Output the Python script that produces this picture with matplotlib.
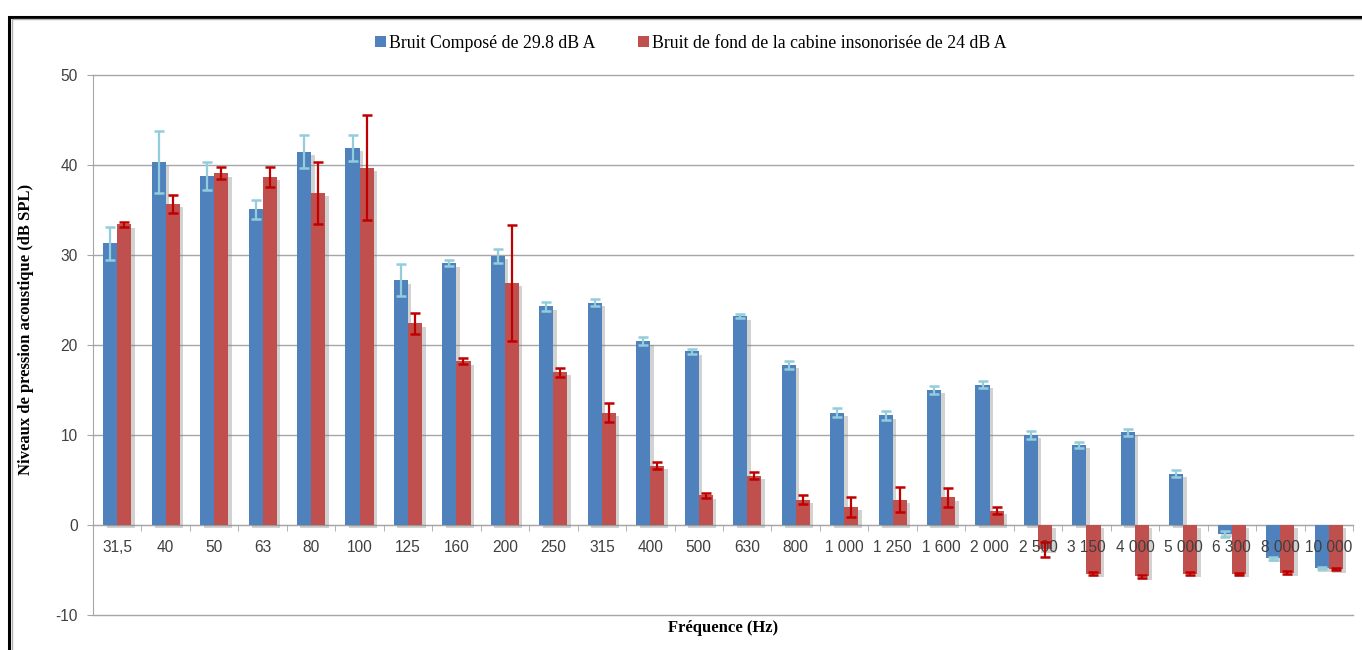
import matplotlib
matplotlib.use("Agg")
import matplotlib.pyplot as plt
import matplotlib.patheffects as pe
from matplotlib.patches import Patch, Rectangle
import numpy as np

plt.rcParams['axes.unicode_minus'] = False

# data
freqs = ['31,5', '40', '50', '63', '80', '100', '125', '160', '200', '250', '315',
         '400', '500', '630', '800', '1 000', '1 250', '1 600', '2 000', '2 500',
         '3 150', '4 000', '5 000', '6 300', '8 000', '10 000']
bruit_compose = [31.3, 40.3, 38.8, 35.1, 41.5, 41.9, 27.2, 29.1, 29.9, 24.3, 24.7,
                 20.4, 19.3, 23.2, 17.8, 12.5, 12.2, 15.0, 15.6, 10.0, 8.9, 10.3,
                 5.7, -1.0, -3.7, -4.8]
bruit_compose_err = [1.85, 3.45, 1.55, 1.05, 1.85, 1.4, 1.75, 0.35, 0.8, 0.5, 0.37,
                     0.45, 0.25, 0.2, 0.43, 0.5, 0.5, 0.4, 0.37, 0.4, 0.33, 0.37,
                     0.4, 0.35, 0.15, 0.1]
bruit_fond = [33.4, 35.7, 39.1, 38.7, 36.9, 39.7, 22.4, 18.2, 26.9, 17.0, 12.5,
              6.6, 3.3, 5.5, 2.8, 2.0, 2.8, 3.1, 1.6, -2.7, -5.4, -5.7, -5.4,
              -5.4, -5.3, -4.9]
bruit_fond_err = [0.3, 1.0, 0.7, 1.1, 3.4, 5.85, 1.2, 0.35, 6.45, 0.5, 1.05,
                  0.4, 0.3, 0.4, 0.5, 1.1, 1.4, 1.05, 0.37, 0.8, 0.2, 0.15, 0.15,
                  0.1, 0.15, 0.15]
series_labels = ['Bruit Composé de 29.8 dB A',
                 'Bruit de fond de la cabine insonorisée de 24 dB A']
yticks = [-10, 0, 10, 20, 30, 40, 50]

blue, red = '#4F81BD', '#C0504D'
blue_err, red_err = '#92CDDC', '#C00000'
grid_col = '#a6a6a6'
tick_font = ['Liberation Sans', 'DejaVu Sans']
title_font = ['Liberation Serif', 'DejaVu Serif']

W, H = 1362, 650
fig = plt.figure(figsize=(W / 100, H / 100), dpi=100)
ax = fig.add_axes([93 / W, 1 - 615 / H, (1353 - 93) / W, 540 / H])

x = np.arange(len(freqs))
w = 0.29
shadow = [pe.SimplePatchShadow(offset=(2.5, -2.5), shadow_rgbFace='#808080', alpha=0.35),
          pe.Normal()]

b1 = ax.bar(x - w / 2, bruit_compose, w, color=blue, zorder=2,
            yerr=bruit_compose_err,
            error_kw=dict(ecolor=blue_err, elinewidth=1.6, capsize=3.3, capthick=1.8, zorder=3))
b2 = ax.bar(x + w / 2, bruit_fond, w, color=red, zorder=2,
            yerr=bruit_fond_err,
            error_kw=dict(ecolor=red_err, elinewidth=1.6, capsize=3.3, capthick=1.8, zorder=3))
for p in list(b1) + list(b2):
    p.set_path_effects(shadow)

ax.set_xlim(-0.5, len(freqs) - 0.5)
ax.set_ylim(-10, 50)
ax.set_yticks(yticks)
# gridlines drawn by hand so that tick labels can sit above the bars
ax.set_axisbelow(False)
for t in yticks:
    ax.axhline(t, color=grid_col, lw=1.0, zorder=0, clip_on=False)

ax.spines['top'].set_visible(False)
ax.spines['right'].set_visible(False)
ax.spines['left'].set_color(grid_col)
ax.spines['bottom'].set_position(('data', 0))
ax.spines['bottom'].set_color(grid_col)
ax.spines['bottom'].set_zorder(1)

ax.set_xticks(x)
ax.set_xticklabels(freqs)
ax.set_xticks(np.arange(len(freqs) + 1) - 0.5, minor=True)
ax.tick_params(axis='x', which='major', length=0, pad=11)
ax.tick_params(axis='x', which='minor', length=4, color=grid_col, direction='out')
ax.tick_params(axis='y', length=4, color=grid_col, pad=7)
for lab in ax.get_xticklabels() + ax.get_yticklabels():
    lab.set_family(tick_font)
    lab.set_fontsize(11.2)
    lab.set_color('#404040')

ax.set_xlabel('Fréquence (Hz)', family=title_font, fontweight='bold', fontsize=12)
ax.xaxis.set_label_coords(0.5, -0.01)
ax.xaxis.label.set_va('top')
ax.set_ylabel('Niveaux de pression acoustique (dB SPL)', family=title_font,
              fontweight='bold', fontsize=12)
ax.yaxis.set_label_coords(-0.047, 0.528)

handles = [Patch(facecolor=blue), Patch(facecolor=red)]
fig.legend(handles, series_labels, loc='center', bbox_to_anchor=(691 / W, 1 - 43 / H),
           ncol=2, frameon=False, handlelength=0.6, handleheight=0.6,
           handletextpad=0.2, columnspacing=2.4,
           prop=dict(family=title_font, size=12.8))

# chart frame
fig.add_artist(Rectangle((9 / W, -0.2), 1.2, 1.2 - 16.5 / H, transform=fig.transFigure,
                         fill=False, ec='black', lw=2.2))
fig.add_artist(Rectangle((11.5 / W, -0.2), 1.2, 1.2 - 19 / H, transform=fig.transFigure,
                         fill=False, ec='#b0b0b0', lw=1.0))

fig.savefig('out.png', dpi=100)
